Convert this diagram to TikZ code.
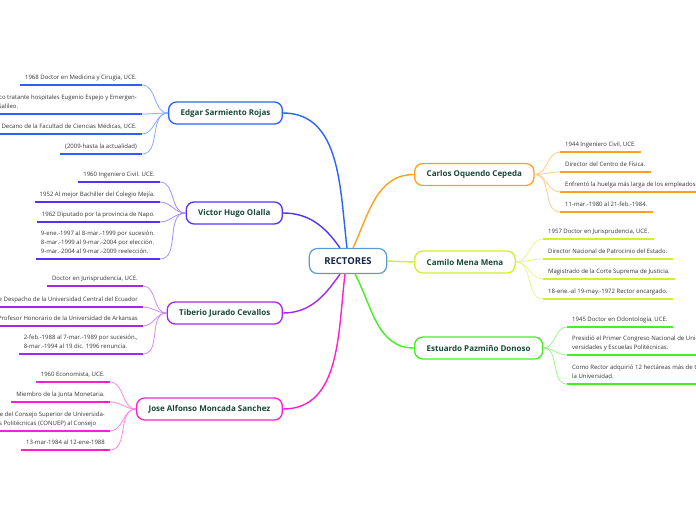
\documentclass[tikz,border=0pt]{standalone}
\usepackage{fontspec}
\setmainfont{Open Sans}
\definecolor{cCenter}{HTML}{5B9BD5}
\definecolor{cCenterTxt}{HTML}{14274A}
\definecolor{cTitleTxt}{HTML}{17483A}
\definecolor{cLeafTxt}{HTML}{333333}
\definecolor{cEdgar}{HTML}{2962FF}
\definecolor{cVictor}{HTML}{5530FF}
\definecolor{cTiberio}{HTML}{A626F0}
\definecolor{cJose}{HTML}{FF1FCF}
\definecolor{cCarlos}{HTML}{FFA021}
\definecolor{cCamilo}{HTML}{D2F026}
\definecolor{cEstuardo}{HTML}{45EE25}
\begin{document}
\begin{tikzpicture}[x=1pt,y=1pt,
  centerbox/.style={draw=cCenter, line width=1.2pt, rounded corners=8pt, fill=white,
    text=cCenterTxt, font=\fontsize{9.5}{11}\selectfont\bfseries, inner xsep=15pt, minimum height=25pt},
  titlebox/.style={draw=#1, line width=1.3pt, rounded corners=8pt, fill=white,
    text=cTitleTxt, font=\fontsize{8}{9}\selectfont\bfseries, inner xsep=12pt, minimum height=22pt},
  leafL/.style={anchor=south east, inner xsep=5pt, inner ysep=2.5pt, align=left,
    font=\fontsize{6}{9}\selectfont, text=cLeafTxt, execute at end node=\strut},
  leafR/.style={anchor=south west, inner xsep=5pt, inner ysep=2.5pt, align=left,
    font=\fontsize{6}{9}\selectfont, text=cLeafTxt, execute at end node=\strut},
  uline/.style={draw=#1, line width=1.8pt},
  lconn/.style={draw=#1!55, line width=0.8pt},
  mconn/.style={draw=#1, line width=1.4pt},
]
\useasboundingbox (0,0) rectangle (696,-520);
\clip (0,0) rectangle (696,-520);

% ---------- nodes ----------
\node[centerbox] (rect) at (348,-261) {RECTORES};
\node[titlebox=cEdgar, anchor=east] (edgar) at (283,-113) {Edgar Sarmiento Rojas};
\node[titlebox=cVictor, anchor=east] (victor) at (283,-213) {Victor Hugo Olalla};
\node[titlebox=cTiberio, anchor=east] (tiberio) at (283,-313) {Tiberio Jurado Cevallos};
\node[titlebox=cJose, anchor=east] (jose) at (283,-409) {Jose Alfonso Moncada Sanchez};
\node[titlebox=cCarlos, anchor=west] (carlos) at (414,-174.5) {Carlos Oquendo Cepeda};
\node[titlebox=cCamilo, anchor=west] (camilo) at (414,-262) {Camilo Mena Mena};
\node[titlebox=cEstuardo, anchor=west] (estuardo) at (414,-348) {Estuardo Pazmiño Donoso};

% ---------- main connectors ----------
\draw[mconn=cEdgar] (edgar.east) to[out=0,in=97] ([xshift=-1pt]rect.north);
\draw[mconn=cVictor] (victor.east) to[out=0,in=125] ([xshift=-8pt]rect.north);
\draw[mconn=cCarlos] (carlos.west) to[out=180,in=65] ([xshift=5pt]rect.north);
\draw[mconn=cCamilo] (rect.east) -- (camilo.west);
\draw[mconn=cTiberio] (tiberio.east) to[out=0,in=-125] ([xshift=-8pt]rect.south);
\draw[mconn=cJose] (jose.east) to[out=0,in=-97] ([xshift=-3pt]rect.south);
\draw[mconn=cEstuardo] (estuardo.west) to[out=180,in=-62] ([xshift=7pt]rect.south);

% ---------- Edgar leaves ----------
\node[leafL] (e1) at (142,-85) {1968 Doctor en Medicina y Cirugía, UCE.};
\node[leafL] (e2) at (142,-114) {Médico tratante hospitales Eugenio Espejo y Emergen-\\cias Galileo.};
\node[leafL] (e3) at (142,-134) {Decano de la Facultad de Ciencias Médicas, UCE.};
\node[leafL] (e4) at (142,-154) {(2009-hasta la actualidad)};
\foreach \n in {e1,e2,e3,e4}{
  \draw[uline=cEdgar] (\n.south west) -- (\n.south east);
  \draw[lconn=cEdgar] (edgar.west) to[out=180,in=0] (\n.south east);
}

% ---------- Victor leaves ----------
\node[leafL] (v1) at (160,-182) {1960 Ingeniero Civil. UCE.};
\node[leafL] (v2) at (160,-202) {1952 Al mejor Bachiller del Colegio Mejía.};
\node[leafL] (v3) at (160,-222) {1962 Diputado por la provincia de Napo.};
\node[leafL] (v4) at (160,-259) {9-ene.-1997 al 8-mar.-1999 por sucesión.\\8-mar.-1999 al 9-mar.-2004 por elección.\\9-mar.-2004 al 9-mar.-2009 reelección.};
\foreach \n in {v1,v2,v3,v4}{
  \draw[uline=cVictor] (\n.south west) -- (\n.south east);
  \draw[lconn=cVictor] (victor.west) to[out=180,in=0] (\n.south east);
}

% ---------- Tiberio leaves ----------
\node[leafL] (t1) at (143,-286) {Doctor en Jurisprudencia, UCE.};
\node[leafL] (t2) at (143,-307) {Jefe de Despacho de la Universidad Central del Ecuador};
\node[leafL] (t3) at (143,-326) {Profesor Honorario de la Universidad de Arkansas};
\node[leafL] (t4) at (143,-354) {2-feb.-1988 al 7-mar.-1989 por sucesión.,\\8-mar.-1994 al 19 dic. 1996 renuncia.};
\foreach \n in {t1,t2,t3,t4}{
  \draw[uline=cTiberio] (\n.south west) -- (\n.south east);
  \draw[lconn=cTiberio] (tiberio.west) to[out=180,in=0] (\n.south east);
}

% ---------- Jose leaves ----------
\node[leafL] (j1) at (110,-382) {1960 Economista, UCE.};
\node[leafL] (j2) at (110,-402) {Miembro de la Junta Monetaria.};
\node[leafL] (j3) at (110,-431) {Representante del Consejo Superior de Universida-\\des y Escuelas Politécnicas (CONUEP) al Consejo};
\node[leafL] (j4) at (110,-450) {13-mar-1984 al 12-ene-1988};
\foreach \n in {j1,j2,j3,j4}{
  \draw[uline=cJose] (\n.south west) -- (\n.south east);
  \draw[lconn=cJose] (jose.west) to[out=180,in=0] (\n.south east);
}

% ---------- Carlos leaves ----------
\node[leafR] (c1) at (560,-152) {1944 Ingeniero Civil, UCE.};
\node[leafR] (c2) at (560,-172) {Director del Centro de Física.};
\node[leafR] (c3) at (560,-192) {Enfrentó la huelga más larga de los empleados universitarios.};
\node[leafR] (c4) at (560,-212) {11-mar.-1980 al 21-feb.-1984.};
\foreach \n in {c1,c2,c3,c4}{
  \draw[uline=cCarlos] (\n.south west) -- (\n.south east);
  \draw[lconn=cCarlos] (carlos.east) to[out=0,in=180] (\n.south west);
}

% ---------- Camilo leaves ----------
\node[leafR] (m1) at (543,-239) {1957 Doctor en Jurisprudencia, UCE.};
\node[leafR] (m2) at (543,-259) {Director Nacional de Patrocinio del Estado.};
\node[leafR] (m3) at (543,-279) {Magistrado de la Corte Suprema de Justicia.};
\node[leafR] (m4) at (543,-299) {18-ene.-al 19-may.-1972 Rector encargado.};
\foreach \n in {m1,m2,m3,m4}{
  \draw[uline=cCamilo] (\n.south west) -- (\n.south east);
  \draw[lconn=cCamilo] (camilo.east) to[out=0,in=180] (\n.south west);
}

% ---------- Estuardo leaves ----------
\node[leafR] (s1) at (567,-327) {1945 Doctor en Odontología, UCE.};
\node[leafR] (s2) at (567,-355) {Presidió el Primer Congreso Nacional de Uni-\\versidades y Escuelas Politécnicas.};
\node[leafR] (s3) at (567,-384) {Como Rector adquirió 12 hectáreas más de terreno para\\la Universidad.};
\foreach \n in {s1,s2,s3}{
  \draw[uline=cEstuardo] (\n.south west) -- (\n.south east);
  \draw[lconn=cEstuardo] (estuardo.east) to[out=0,in=180] (\n.south west);
}
\end{tikzpicture}
\end{document}
